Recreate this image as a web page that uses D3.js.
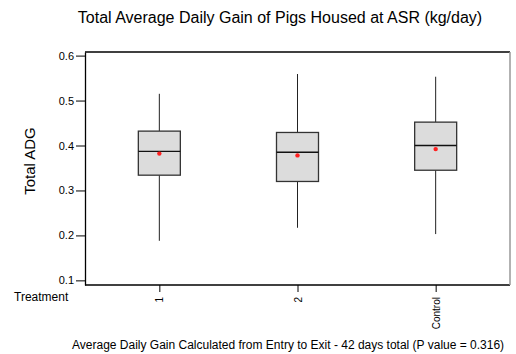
<!DOCTYPE html>
<html>
<head>
<meta charset="utf-8">
<script src="https://cdn.jsdelivr.net/npm/d3@7"></script>
<style>
  body { margin: 0; background: #fff; }
  text { font-family: "Liberation Sans", Arial, sans-serif; fill: #000; }
</style>
</head>
<body>
<div id="plot"></div>
<script>
// data
var treatments = ["1", "2", "Control"];
var whiskerLow = [0.188, 0.217, 0.203];
var q1 = [0.334, 0.320, 0.345];
var medians = [0.387, 0.385, 0.400];
var q3 = [0.432, 0.429, 0.452];
var whiskerHigh = [0.515, 0.559, 0.553];
var means = [0.382, 0.378, 0.392];
var yTicks = [0.1, 0.2, 0.3, 0.4, 0.5, 0.6];

var W = 516, H = 354;
var margin = { t: 52, r: 6, b: 69, l: 85 };
var width = W - margin.l - margin.r,
    height = H - margin.t - margin.b;

var svg = d3.select('#plot')
    .append('svg')
    .attr('width', W)
    .attr('height', H);

var boxes = treatments.map(function (t, i) {
    return {
        name: t,
        lo: whiskerLow[i],
        q1: q1[i],
        med: medians[i],
        q3: q3[i],
        hi: whiskerHigh[i],
        mean: means[i]
    };
});

var x = d3.scalePoint()
    .domain(treatments)
    .range([0, width])
    .padding(0.538);

var y = d3.scaleLinear()
    .domain([0.0897, 0.608])
    .range([height, 0]);

var plot = svg.append('g')
    .attr('transform', 'translate(' + margin.l + ',' + margin.t + ')');

// frame
plot.append('line')
    .attr('x1', 0).attr('x2', width).attr('y1', 0).attr('y2', 0)
    .attr('stroke', '#000').attr('stroke-width', 1.3);
plot.append('line')
    .attr('x1', 0).attr('x2', width).attr('y1', height).attr('y2', height)
    .attr('stroke', '#000').attr('stroke-width', 1.3);
plot.append('line')
    .attr('x1', width).attr('x2', width).attr('y1', 0).attr('y2', height)
    .attr('stroke', '#999').attr('stroke-width', 1.5);

// y axis
var yAxis = plot.append('g')
    .call(d3.axisLeft(y).tickValues(yTicks).tickSize(9).tickSizeOuter(0).tickPadding(2).tickFormat(d3.format('.1f')));
yAxis.select('.domain').attr('stroke-width', 1.3);
yAxis.selectAll('text').style('font-size', '11px');

// x axis
var xAxis = plot.append('g')
    .attr('transform', 'translate(0,' + height + ')')
    .call(d3.axisBottom(x).tickSize(7).tickSizeOuter(0));
xAxis.select('.domain').remove();
xAxis.selectAll('text')
    .style('font-size', '10px')
    .attr('transform', 'rotate(-90)')
    .attr('text-anchor', 'end')
    .attr('x', -12)
    .attr('y', 0)
    .attr('dy', '0.35em');

// boxes
var bw = 42;
var g = plot.selectAll('.box')
    .data(boxes)
    .enter()
    .append('g')
    .attr('class', 'box');

g.append('line')
    .attr('x1', function (d) { return x(d.name); })
    .attr('x2', function (d) { return x(d.name); })
    .attr('y1', function (d) { return y(d.hi); })
    .attr('y2', function (d) { return y(d.q3); })
    .attr('stroke', '#222');
g.append('line')
    .attr('x1', function (d) { return x(d.name); })
    .attr('x2', function (d) { return x(d.name); })
    .attr('y1', function (d) { return y(d.q1); })
    .attr('y2', function (d) { return y(d.lo); })
    .attr('stroke', '#222');

g.append('rect')
    .attr('x', function (d) { return x(d.name) - bw / 2; })
    .attr('y', function (d) { return y(d.q3); })
    .attr('width', bw)
    .attr('height', function (d) { return y(d.q1) - y(d.q3); })
    .attr('fill', '#dcdcdc')
    .attr('stroke', '#333')
    .attr('stroke-width', 1.3);

g.append('line')
    .attr('x1', function (d) { return x(d.name) - bw / 2; })
    .attr('x2', function (d) { return x(d.name) + bw / 2; })
    .attr('y1', function (d) { return y(d.med); })
    .attr('y2', function (d) { return y(d.med); })
    .attr('stroke', '#111')
    .attr('stroke-width', 1.3);

g.append('circle')
    .attr('cx', function (d) { return x(d.name); })
    .attr('cy', function (d) { return y(d.mean); })
    .attr('r', 2.2)
    .attr('fill', '#ff2020');

// texts
svg.append('text')
    .attr('x', 280)
    .attr('y', 23)
    .attr('text-anchor', 'middle')
    .style('font-size', '16px')
    .text('Total Average Daily Gain of Pigs Housed at ASR (kg/day)');

svg.append('text')
    .attr('transform', 'translate(35,161) rotate(-90)')
    .attr('text-anchor', 'middle')
    .style('font-size', '15px')
    .text('Total ADG');

svg.append('text')
    .attr('x', 14)
    .attr('y', 301)
    .style('font-size', '12px')
    .text('Treatment');

svg.append('text')
    .attr('x', 72)
    .attr('y', 349)
    .style('font-size', '12px')
    .text('Average Daily Gain Calculated from Entry to Exit - 42 days total (P value = 0.316)');
</script>
</body>
</html>
